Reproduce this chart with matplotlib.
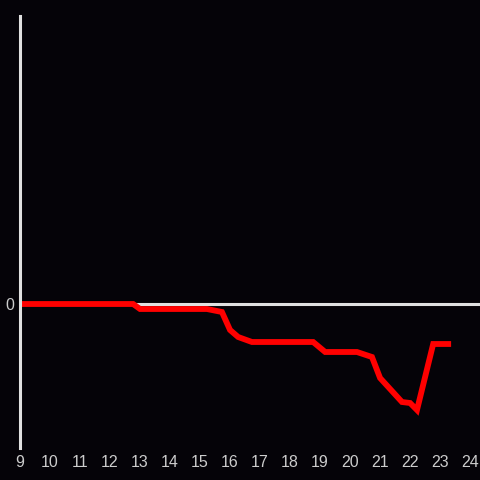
import matplotlib
matplotlib.use('Agg')
import matplotlib.pyplot as plt

# hours of the day and the running value
hours = [9.0, 12.77, 13.0, 15.23, 15.73, 16.0, 16.27, 16.73, 18.77, 19.17,
         20.23, 20.73, 21.0, 21.73, 22.0, 22.23, 22.77, 23.27]
values = [0, 0, -0.5, -0.5, -0.8, -2.6, -3.3, -3.8, -3.8, -4.8,
          -4.8, -5.3, -7.4, -9.8, -9.9, -10.6, -4.0, -4.0]
xticks = list(range(9, 25))

bg = '#050308'
axis_col = '#e0e0e0'
text_col = '#cccccc'

plt.rcParams['font.family'] = ['Liberation Sans', 'DejaVu Sans']
fig = plt.figure(figsize=(4.8, 4.8), dpi=100, facecolor=bg)
ax = fig.add_axes([20 / 480, 32 / 480, 460 / 480, 432 / 480], facecolor=bg)

ax.axhline(0, color=axis_col, lw=2.2, zorder=1)
ax.plot(hours, values, color='#ff0000', lw=4.2, solid_joinstyle='miter', zorder=2)

ax.set_xlim(9, 24.33)
ax.set_ylim(-14.4, 28.8)
ax.set_xticks(xticks)
ax.set_xticklabels([str(t) for t in xticks])
ax.set_yticks([0])
ax.set_yticklabels(['0'])
ax.tick_params(length=0, colors=text_col, labelsize=11.5)
ax.tick_params(axis='x', pad=5)
ax.tick_params(axis='y', pad=4)

for s in ['top', 'right', 'bottom']:
    ax.spines[s].set_visible(False)
ax.spines['left'].set_color(axis_col)
ax.spines['left'].set_linewidth(2.2)

fig.savefig('out.png', dpi=100, facecolor=bg)
